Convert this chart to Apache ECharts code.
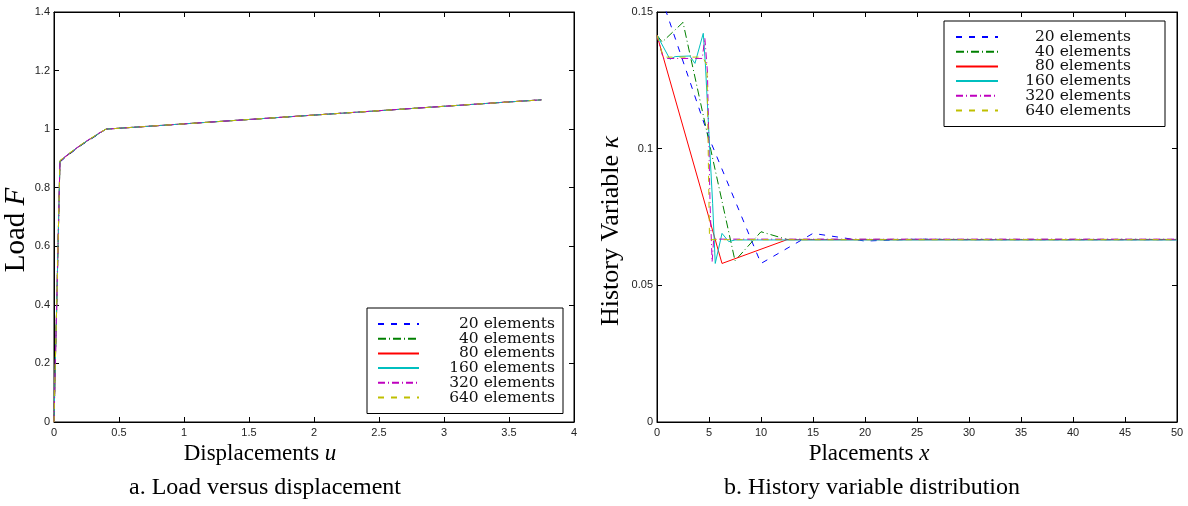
<!DOCTYPE html>
<html>
<head>
<meta charset="utf-8">
<script src="https://cdn.jsdelivr.net/npm/echarts@6/dist/echarts.min.js"></script>
<style>html,body{margin:0;padding:0;background:#fff}#c{width:1188px;height:506px}</style>
</head>
<body>
<div id="c"></div>
<script>
// ---------- data ----------
const seriesNames = ['20 elements', '40 elements', '80 elements', '160 elements', '320 elements', '640 elements'];

// Panel a: load F versus displacement u  ([u, F])
const load20  = [[0,0],[0.010,0.2],[0.021,0.4],[0.031,0.6],[0.041,0.8],[0.046,0.888],[0.12,0.915],[0.22,0.948],[0.27,0.962],[0.34,0.982],[0.40,1.0],[1.0,1.018],[1.5,1.033],[2.0,1.048],[2.5,1.063],[3.0,1.078],[3.5,1.093],[3.75,1.1]];
const load40  = [[0,0],[0.010,0.2],[0.021,0.4],[0.031,0.6],[0.041,0.8],[0.046,0.890],[0.12,0.916],[0.22,0.949],[0.27,0.963],[0.34,0.983],[0.40,1.0],[1.0,1.018],[1.5,1.033],[2.0,1.048],[2.5,1.063],[3.0,1.078],[3.5,1.093],[3.75,1.1]];
const load80  = [[0,0],[0.010,0.2],[0.021,0.4],[0.031,0.6],[0.041,0.8],[0.046,0.891],[0.12,0.917],[0.22,0.950],[0.27,0.964],[0.34,0.984],[0.40,1.0],[1.0,1.018],[1.5,1.033],[2.0,1.048],[2.5,1.063],[3.0,1.078],[3.5,1.093],[3.75,1.1]];
const load160 = [[0,0],[0.010,0.2],[0.021,0.4],[0.031,0.6],[0.041,0.8],[0.046,0.892],[0.12,0.918],[0.22,0.950],[0.27,0.964],[0.34,0.984],[0.40,1.0],[1.0,1.018],[1.5,1.033],[2.0,1.048],[2.5,1.063],[3.0,1.078],[3.5,1.093],[3.75,1.1]];
const load320 = [[0,0],[0.010,0.2],[0.021,0.4],[0.031,0.6],[0.041,0.8],[0.046,0.892],[0.12,0.918],[0.22,0.951],[0.27,0.965],[0.34,0.985],[0.40,1.0],[1.0,1.018],[1.5,1.033],[2.0,1.048],[2.5,1.063],[3.0,1.078],[3.5,1.093],[3.75,1.1]];
const load640 = [[0,0],[0.010,0.2],[0.021,0.4],[0.031,0.6],[0.041,0.8],[0.046,0.893],[0.12,0.919],[0.22,0.951],[0.27,0.965],[0.34,0.985],[0.40,1.0],[1.0,1.018],[1.5,1.033],[2.0,1.048],[2.5,1.063],[3.0,1.078],[3.5,1.093],[3.75,1.1]];

// Panel b: history variable kappa versus placement x  ([x, kappa])
const kappa20  = [[0,0.160],[5,0.104],[10,0.058],[15,0.069],[20,0.0662],[25,0.0669],[30,0.0667],[35,0.0667],[40,0.0667],[45,0.0667],[50,0.0667]];
const kappa40  = [[0,0.1415],[0.5,0.139],[2.5,0.1462],[7.5,0.0590],[10,0.0696],[12.5,0.0668],[15,0.0668],[20,0.0668],[30,0.0668],[40,0.0668],[50,0.0668]];
const kappa80  = [[0,0.1415],[6.25,0.058],[12.5,0.0667],[20,0.0667],[30,0.0667],[40,0.0667],[50,0.0667]];
const kappa160 = [[0,0.1415],[1.25,0.1327],[1.75,0.1337],[3.15,0.1339],[3.65,0.1312],[4.45,0.1422],[4.65,0.131],[5.0,0.105],[5.35,0.080],[5.6,0.058],[6.25,0.069],[6.9,0.066],[7.5,0.0666],[20,0.0666],[30,0.0666],[40,0.0666],[50,0.0666]];
const kappa320 = [[0,0.1415],[0.6,0.133],[4.35,0.133],[4.6,0.1405],[4.85,0.128],[5.1,0.080],[5.3,0.0586],[5.45,0.0669],[20,0.0669],[30,0.0669],[40,0.0669],[50,0.0669]];
const kappa640 = [[0,0.1415],[0.6,0.1335],[4.4,0.1335],[4.8,0.1305],[5.05,0.0667],[20,0.0667],[30,0.0667],[40,0.0667],[50,0.0667]];

const uTicks = {min: 0, max: 4, interval: 0.5};
const fTicks = {min: 0, max: 1.4, interval: 0.2};
const xTicks = {min: 0, max: 50, interval: 5};
const kTicks = {min: 0, max: 0.15, interval: 0.05};

// ---------- styles ----------
const colors = ['#0000ff', '#008000', '#ff0000', '#00bfbf', '#bf00bf', '#bfbf00'];
const dashes = [[6, 7], [8, 3, 1, 3], 'solid', 'solid', [7, 3, 1, 3], [6, 7]];
const loadData = [load20, load40, load80, load160, load320, load640];
const kappaData = [kappa20, kappa40, kappa80, kappa160, kappa320, kappa640];

const tickFont = {fontFamily: 'Liberation Sans', fontSize: 11, color: '#222'};
function mainX(grid, t, name, nameShift) {
  return Object.assign({
    type: 'value', gridIndex: grid, position: 'bottom',
    axisLine: {show: true, onZero: false, lineStyle: {color: '#000', width: 1}},
    axisTick: {show: true, inside: true, length: 5, lineStyle: {color: '#000'}},
    axisLabel: Object.assign({margin: 5}, tickFont),
    splitLine: {show: false},
    name: name, nameLocation: 'middle', nameGap: 13,
    nameTextStyle: {fontFamily: 'Liberation Serif', fontSize: 23, color: '#000', padding: [0, nameShift * 2, 0, 0],
      rich: {i: {fontFamily: 'Liberation Serif', fontSize: 23, fontStyle: 'italic', color: '#000'}}}
  }, t);
}
function mirrorX(grid, t) {
  return Object.assign({
    type: 'value', gridIndex: grid, position: 'top',
    axisLine: {show: true, onZero: false, lineStyle: {color: '#000', width: 1}},
    axisTick: {show: true, inside: true, length: 5, lineStyle: {color: '#000'}},
    axisLabel: {show: false}, splitLine: {show: false}
  }, t);
}
function mainY(grid, t, name, fs, gap, shift) {
  return Object.assign({
    type: 'value', gridIndex: grid, position: 'left',
    axisLine: {show: true, onZero: false, lineStyle: {color: '#000', width: 1}},
    axisTick: {show: true, inside: true, length: 5, lineStyle: {color: '#000'}},
    axisLabel: Object.assign({margin: 4}, tickFont),
    splitLine: {show: false},
    name: name, nameLocation: 'middle', nameGap: gap, nameRotate: 90,
    nameTextStyle: {fontFamily: 'Liberation Serif', fontSize: fs, color: '#000', padding: [0, shift * 2, 0, 0],
      rich: {i: {fontFamily: 'Liberation Serif', fontSize: fs, fontStyle: 'italic', color: '#000'}}}
  }, t);
}
function mirrorY(grid, t) {
  return Object.assign({
    type: 'value', gridIndex: grid, position: 'right',
    axisLine: {show: true, onZero: false, lineStyle: {color: '#000', width: 1}},
    axisTick: {show: true, inside: true, length: 5, lineStyle: {color: '#000'}},
    axisLabel: {show: false}, splitLine: {show: false}
  }, t);
}
function legendFor(left, top, pad, iconW, textW) {
  return {
    orient: 'vertical', left: left, top: top, padding: pad,
    backgroundColor: '#fff', borderColor: '#000', borderWidth: 1, borderRadius: 0,
    itemWidth: iconW, itemHeight: 10, itemGap: -1.3,
    itemStyle: {color: 'rgba(0,0,0,0)', borderWidth: 0, opacity: 0},
    data: seriesNames,
    formatter: n => '{t|' + n + '}',
    textStyle: {fontFamily: 'DejaVu Serif', fontSize: 15.5, lineHeight: 13, color: '#111',
      rich: {t: {width: textW, align: 'right', fontFamily: 'DejaVu Serif', fontSize: 15.5, lineHeight: 13, color: '#111'}}}
  };
}

const series = [];
seriesNames.forEach((nm, i) => {
  series.push({name: nm, type: 'line', xAxisIndex: 0, yAxisIndex: 0, data: loadData[i], showSymbol: false, symbol: 'none',
    lineStyle: {color: colors[i], width: 1, type: dashes[i]}, itemStyle: {color: colors[i]}, clip: true});
});
seriesNames.forEach((nm, i) => {
  series.push({name: nm, type: 'line', xAxisIndex: 2, yAxisIndex: 2, data: kappaData[i], showSymbol: false, symbol: 'none',
    lineStyle: {color: colors[i], width: 1, type: dashes[i]}, itemStyle: {color: colors[i]}, clip: true});
});

const chart = echarts.init(document.getElementById('c'), null, {renderer: 'canvas'});
chart.setOption({
  animation: false,
  backgroundColor: '#fff',
  grid: [
    {left: 54, top: 12, width: 520, height: 410, show: true, borderColor: '#000', borderWidth: 1},
    {left: 657, top: 12, width: 520, height: 410, show: true, borderColor: '#000', borderWidth: 1}
  ],
  xAxis: [
    mainX(0, uTicks, 'Displacements {i|u}', 54),
    mirrorX(0, uTicks),
    mainX(1, xTicks, 'Placements {i|x}', 48),
    mirrorX(1, xTicks)
  ],
  yAxis: [
    mainY(0, fTicks, 'Load {i|F}', 29, 17, 13),
    mirrorY(0, fTicks),
    mainY(1, kTicks, 'History Variable {i|\u03BA}', 26, 33, 14),
    mirrorY(1, kTicks)
  ],
  legend: [
    legendFor(367, 308, [8, 8, 8, 10], 41, 131),
    legendFor(944, 21, [8, 34, 8, 11], 42, 128)
  ],
  title: [
    {text: 'a. Load versus displacement', left: 260, top: 471, textAlign: 'center',
      textStyle: {fontFamily: 'Liberation Serif', fontSize: 24, fontWeight: 'normal', color: '#000'}},
    {text: 'b. History variable distribution', left: 867, top: 471, textAlign: 'center',
      textStyle: {fontFamily: 'Liberation Serif', fontSize: 24, fontWeight: 'normal', color: '#000'}}
  ],
  series: series
});
</script>
</body>
</html>
